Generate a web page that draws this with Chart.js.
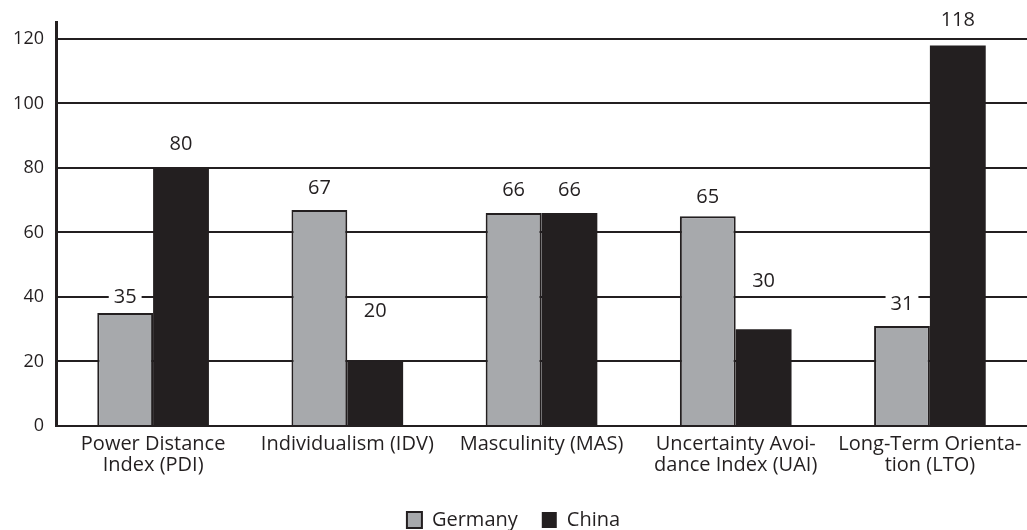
<!DOCTYPE html>
<html>
<head>
<meta charset="utf-8">
<script src="https://cdn.jsdelivr.net/npm/chart.js@4/dist/chart.umd.min.js"></script>
<style>
  html, body { margin: 0; padding: 0; background: #fff; }
  #wrap { width: 1027px; height: 530px; position: relative; }
</style>
</head>
<body>
<div id="wrap"><canvas id="hofstede"></canvas></div>
<script>
// ─── Data ────────────────────────────────────────────────────────────────────
const categories = [
  ['Power Distance', 'Index (PDI)'],
  'Individualism (IDV)',
  'Masculinity (MAS)',
  ['Uncertainty Avoi-', 'dance Index (UAI)'],
  ['Long-Term Orienta-', 'tion (LTO)'],
];
const germany = [35, 67, 66, 65, 31];
const china   = [80, 20, 66, 30, 118];
const yTicks  = [0, 20, 40, 60, 80, 100, 120];

const INK  = '#231f20';
const GREY = '#a7a9ac';
const FONT = "'Open Sans', sans-serif";

// distance (px) between bar top and label centre; a few labels sit higher
const LIFT = {
  0: [16, 22, 23, 19, 22],
  1: [24, 50, 23, 48, 25],
};

// ─── Value labels above bars ─────────────────────────────────────────────────
const valueLabels = {
  id: 'valueLabels',
  afterDatasetsDraw(chart) {
    const ctx = chart.ctx;
    ctx.save();
    ctx.font = '20px ' + FONT;
    ctx.textAlign = 'center';
    ctx.textBaseline = 'middle';
    chart.data.datasets.forEach((ds, di) => {
      chart.getDatasetMeta(di).data.forEach((bar, i) => {
        const txt = String(ds.data[i]);
        const y = bar.y - LIFT[di][i];
        const w = ctx.measureText(txt).width;
        ctx.fillStyle = '#fff';
        ctx.fillRect(bar.x - w / 2 - 5, y - 9, w + 10, 18);
        ctx.fillStyle = INK;
        ctx.fillText(txt, bar.x, y);
      });
    });
    ctx.restore();
  },
};

new Chart(document.getElementById('hofstede'), {
  type: 'bar',
  data: {
    labels: categories,
    datasets: [
      {
        label: 'Germany',
        data: germany,
        backgroundColor: GREY,
        borderColor: INK,
        borderWidth: 2,
        borderSkipped: 'bottom',
      },
      {
        label: 'China',
        data: china,
        backgroundColor: INK,
        borderColor: INK,
        borderWidth: 0,
      },
    ],
  },
  options: {
    responsive: true,
    maintainAspectRatio: false,
    animation: false,
    layout: { padding: { top: 22, right: 0, left: 0, bottom: -10 } },
    datasets: { bar: { barPercentage: 1, categoryPercentage: 0.575 } },
    scales: {
      x: {
        grid: { display: false },
        border: { display: true, color: INK, width: 2 },
        ticks: {
          color: INK,
          font: { family: FONT, size: 20, lineHeight: 1.05 },
          maxRotation: 0,
          autoSkip: false,
          padding: 0,
        },
        afterFit: s => { s.height = 60; },
      },
      y: {
        min: 0,
        max: 125,
        afterBuildTicks: s => { s.ticks = yTicks.map(v => ({ value: v })); },
        grid: { color: INK, lineWidth: 2, drawTicks: false },
        border: { display: true, color: INK, width: 3 },
        ticks: {
          color: INK,
          font: { family: FONT, size: 18 },
          padding: 12,
        },
        afterFit: s => { s.width = 56; },
      },
    },
    plugins: {
      legend: {
        position: 'bottom',
        labels: {
          color: INK,
          font: { family: FONT, size: 20 },
          boxWidth: 15,
          boxHeight: 16,
          padding: 24,
        },
      },
      tooltip: { enabled: false },
    },
  },
  plugins: [valueLabels],
});
</script>
</body>
</html>
